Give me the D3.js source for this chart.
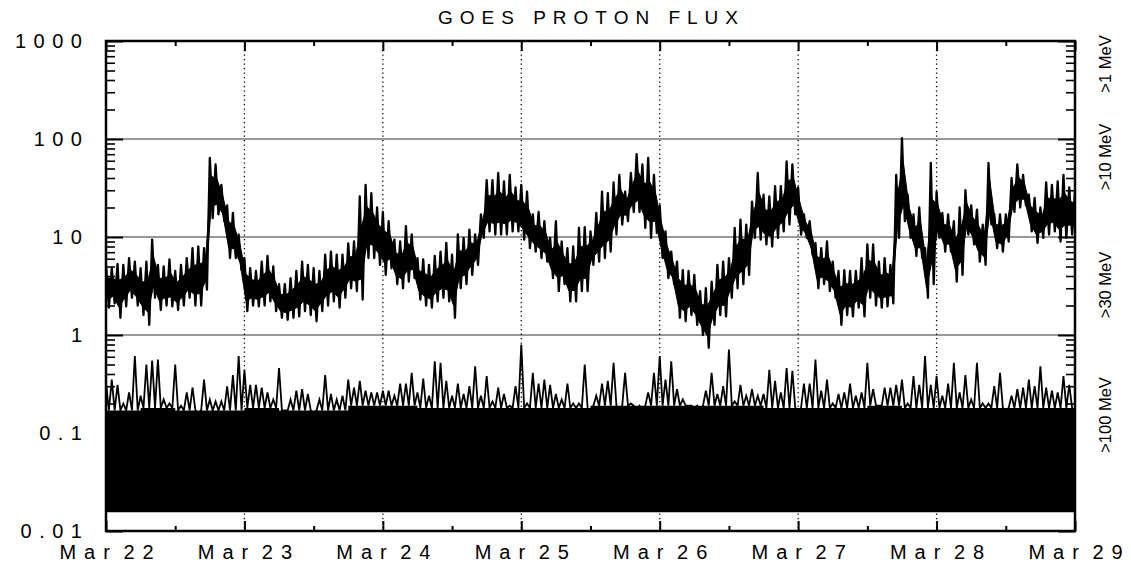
<!DOCTYPE html>
<html><head><meta charset="utf-8">
<script src="https://cdn.jsdelivr.net/npm/d3@7"></script>
<style>body{margin:0;background:#fff}svg{display:block}</style>
</head><body>
<svg id="c" width="1131" height="562"></svg>
<script>
// ---------- data ----------
const chartTitle = "GOES PROTON FLUX";
const dayLabels = ["Mar 22","Mar 23","Mar 24","Mar 25","Mar 26","Mar 27","Mar 28","Mar 29"];
const dayHours = [0,24,48,72,96,120,144,168];
const halfDayHours = [12,36,60,84,108,132,156];
const yDecades = [0.01,0.1,1,10,100,1000];
const yTickLabels = ["0.01","0.1","1","10","100","1000"];
const channelLabels = [">1 MeV",">10 MeV",">30 MeV",">100 MeV"];

// upper channel: hourly high / low envelope (hour 0 = Mar 22 00:00)
const upperHi = [5.2,4.8,5.3,5.2,6.1,5.6,4.8,5.6,9.4,5.2,
5.0,5.9,4.5,5.2,6.1,7.7,8.0,7.7,64,55,
34,21,17.6,10.6,6.1,4.8,4.5,5.6,6.4,5.0,
3.3,3.3,3.8,4.5,5.6,5.2,4.8,4.5,6.6,7.1,
6.6,6.6,8.6,9.0,26,34,28,20,18,14.5,
9.4,9.0,12.9,10.6,6.1,5.9,5.2,6.4,7.1,8.7,
6.6,10.6,9.8,11.9,10.6,17,38,38,45,37,
43,32,34,29,17,18,14.5,9.8,14.5,9.0,
7.7,8.0,12.4,12.6,11.4,17.6,29,28,36,43,
29,45,70,55,64,43,21,11.4,7.1,5.6,
4.6,4.5,4.1,2.8,3.0,3.5,5.2,5.6,6.1,12.4,
15,13.4,23,45,27,26,33,33,59,55,
32,17,14.5,8.7,7.7,9.0,5.6,4.5,4.6,4.5,
4.5,6.1,8.4,8.4,5.6,6.1,5.2,43,102,27,
17,20,7.7,57,29,17.6,17,14.5,20,30,
21,19,13.4,57,17,17,17,40,55,43,
27,25,20,36,34,37,43,32,29];
const upperLo = [1.9,2.1,1.5,1.96,2.4,2.0,1.6,1.27,2.4,1.8,
2.0,1.96,1.8,2.0,2.4,2.0,2.0,2.9,15.6,17,
14.5,6.1,6.1,4.6,1.75,2.0,1.96,2.0,2.2,1.75,
1.5,1.43,1.5,1.55,1.75,1.6,1.38,1.75,2.0,2.2,
1.9,2.4,3.0,2.8,2.3,6.1,6.1,5.2,4.1,4.8,
3.3,3.0,3.5,3.8,2.3,2.0,1.9,2.2,2.4,2.2,
1.5,3.0,3.3,4.1,5.2,9.8,11.4,10.6,10.6,10.6,
11.4,11.4,9.4,7.7,7.1,6.1,5.6,3.8,2.8,3.3,
2.2,2.2,2.8,2.8,5.2,5.6,6.1,7.1,10.6,13.4,
14.5,18,18,12.4,9.8,11,6.1,3.8,3.3,1.5,
1.38,1.6,1.27,1.0,0.74,1.27,1.6,1.55,2.4,3.0,
3.3,4.1,9.8,9.4,8.4,8.0,9.8,11.4,13.4,17,
10.6,9.8,6.6,3.0,3.3,2.8,2.4,1.27,1.6,1.55,
1.9,1.55,2.4,2.0,1.9,1.96,2.1,9.8,14.5,9.8,
6.4,6.1,2.4,3.3,9.8,7.1,7.1,3.5,4.1,10.6,
8.4,5.6,5.2,13.4,7.7,7.1,9.0,18,20,21,
11.4,8.7,9.8,10.6,11.4,9.0,9.8,10.6,11.4];

// lower channel: hourly spike peaks, 6-hourly dense-band top, background floor
const lowerPeak = [0.33,0.35,0.31,0.2,0.26,0.61,0.24,0.5,0.55,0.56,
0.22,0.2,0.5,0.19,0.26,0.29,0.16,0.35,0.22,0.21,
0.21,0.3,0.39,0.61,0.44,0.31,0.31,0.29,0.26,0.22,
0.46,0.17,0.22,0.27,0.28,0.25,0.16,0.22,0.39,0.25,
0.22,0.24,0.35,0.29,0.34,0.27,0.26,0.26,0.27,0.27,
0.24,0.32,0.32,0.41,0.26,0.36,0.24,0.54,0.52,0.34,
0.24,0.32,0.25,0.3,0.48,0.24,0.38,0.21,0.29,0.25,
0.19,0.3,0.8,0.2,0.41,0.32,0.35,0.31,0.25,0.22,
0.32,0.2,0.2,0.5,0.16,0.24,0.32,0.34,0.52,0.17,
0.41,0.2,0.17,0.17,0.26,0.41,0.61,0.35,0.54,0.28,
0.22,0.19,0.18,0.16,0.27,0.41,0.25,0.3,0.71,0.21,
0.31,0.24,0.28,0.24,0.25,0.44,0.34,0.26,0.46,0.43,
0.17,0.32,0.32,0.56,0.27,0.35,0.2,0.25,0.26,0.32,
0.24,0.26,0.52,0.28,0.19,0.29,0.29,0.31,0.35,0.2,
0.38,0.31,0.61,0.31,0.38,0.24,0.32,0.52,0.26,0.39,
0.22,0.52,0.2,0.2,0.3,0.41,0.17,0.24,0.28,0.29,
0.35,0.3,0.48,0.29,0.27,0.26,0.38,0.31,0.16];
const lowerBand = [0.17,0.18,0.17,0.17,0.18,0.17,0.17,0.19,0.19,0.18,0.18,0.18,0.18,0.18,0.19,
0.19,0.19,0.19,0.19,0.18,0.18,0.18,0.19,0.18,0.18,0.18,0.18,0.18,0.18];
const lowerFloor = 0.0155;

// ---------- layout ----------
const L = 106, R = 1075, T = 41, B = 531;
const svg = d3.select("#c");
const x = d3.scaleLinear().domain([0,168]).range([L,R]);
const y = d3.scaleLog().domain([0.01,1000]).range([B,T]);
const FONT = "'Liberation Sans', Arial, Helvetica, sans-serif";

svg.append("defs").append("clipPath").attr("id","pa")
  .append("rect").attr("x",L).attr("y",T).attr("width",R-L).attr("height",B-T);

// horizontal grid at decades
svg.append("g").selectAll("line").data([0.1,1,10,100]).join("line")
  .attr("x1",L).attr("x2",R).attr("y1",d=>y(d)).attr("y2",d=>y(d))
  .attr("stroke","#333").attr("stroke-width",1.2);
// dotted day lines
svg.append("g").selectAll("line").data(dayHours.slice(1,-1)).join("line")
  .attr("x1",d=>x(d)).attr("x2",d=>x(d)).attr("y1",T).attr("y2",B)
  .attr("stroke","#000").attr("stroke-width",1.3).attr("stroke-dasharray","1.3,3.2");

const plot = svg.append("g").attr("clip-path","url(#pa)");

// lower channel: dense band + spikes
const bandAt = h => lowerBand[Math.min(lowerBand.length-1, Math.floor(h/6))];
const bandPts = d3.range(lowerBand.length).map(i => [i*6, lowerBand[i]]);
plot.append("path").datum(bandPts)
  .attr("d", d3.area().curve(d3.curveStepAfter).x(d=>x(d[0])).y0(y(lowerFloor)).y1(d=>y(d[1])))
  .attr("fill","#000");
const lowerPts = [];
lowerPeak.forEach((v,h)=>{ lowerPts.push([h, v]); lowerPts.push([h+0.5, bandAt(h)]); });
plot.append("path").datum(lowerPts)
  .attr("d", d3.line().x(d=>x(d[0])).y(d=>y(d[1])))
  .attr("fill","none").attr("stroke","#000").attr("stroke-width",1.8).attr("stroke-linejoin","miter");

// upper channel: dense core of the envelope + zigzag trace
const upperRows = upperHi.map((v,h)=>({h, hi:v, lo:upperLo[h]}));
const coreTop = d => y(d.hi) + 0.3*(y(d.lo)-y(d.hi));
const coreBot = d => y(d.lo) - 0.2*(y(d.lo)-y(d.hi));
plot.append("path").datum(upperRows)
  .attr("d", d3.area().x(d=>x(d.h+0.25)).y0(coreBot).y1(coreTop))
  .attr("fill","#000").attr("stroke","#000").attr("stroke-width",1);
const upperPts = [];
upperRows.forEach(d=>{ upperPts.push([d.h, d.hi]); upperPts.push([d.h+0.5, d.lo]); });
plot.append("path").datum(upperPts)
  .attr("d", d3.line().x(d=>x(d[0])).y(d=>y(d[1])))
  .attr("fill","none").attr("stroke","#000").attr("stroke-width",2.3).attr("stroke-linejoin","round");

// ---------- axes ----------
const minorVals = [];
yDecades.slice(0,-1).forEach(d=>{ for(let k=2;k<=9;k++) minorVals.push(d*k); });
function styleAxis(g, w){ g.select(".domain").remove(); g.selectAll(".tick line").attr("stroke","#000").attr("stroke-width",w); }

svg.append("g").attr("transform",`translate(${L},0)`)
  .call(d3.axisLeft(y).tickValues(minorVals).tickSize(-9).tickFormat(""))
  .call(g=>styleAxis(g,1.6));
svg.append("g").attr("transform",`translate(${R},0)`)
  .call(d3.axisRight(y).tickValues(minorVals).tickSize(-9).tickFormat(""))
  .call(g=>styleAxis(g,1.6));
svg.append("g").attr("transform",`translate(${R},0)`)
  .call(d3.axisRight(y).tickValues(yDecades).tickSize(-17).tickFormat(""))
  .call(g=>styleAxis(g,2));
const LS_Y = 7.5;
svg.append("g").attr("transform",`translate(${L},0)`)
  .call(d3.axisLeft(y).tickValues(yDecades).tickSize(-17).tickPadding(24-LS_Y)
        .tickFormat((d,i)=>yTickLabels[i]))
  .call(g=>styleAxis(g,2))
  .call(g=>g.selectAll("text").attr("font-family",FONT).attr("font-size",20)
        .attr("fill","#000").attr("letter-spacing",LS_Y+"px").attr("dy","0.34em"));

// x ticks
svg.append("g").attr("transform",`translate(0,${T})`)
  .call(d3.axisTop(x).tickValues(halfDayHours).tickSize(-5).tickFormat(""))
  .call(g=>styleAxis(g,2));
svg.append("g").attr("transform",`translate(0,${T})`)
  .call(d3.axisTop(x).tickValues(dayHours).tickSize(-10).tickFormat(""))
  .call(g=>styleAxis(g,2));
svg.append("g").attr("transform",`translate(0,${B})`)
  .call(d3.axisBottom(x).tickValues(halfDayHours).tickSize(-5).tickFormat(""))
  .call(g=>styleAxis(g,2));
const LS_X = 8;
svg.append("g").attr("transform",`translate(0,${B})`)
  .call(d3.axisBottom(x).tickValues(dayHours).tickSize(-10).tickPadding(14)
        .tickFormat((d,i)=>dayLabels[i]))
  .call(g=>styleAxis(g,2))
  .call(g=>g.selectAll("text").attr("font-family",FONT).attr("font-size",20)
        .attr("fill","#000").attr("letter-spacing",LS_X+"px").style("word-spacing","-8px")
        .attr("dx",(LS_X/2)+"px"));

// frame
svg.append("rect").attr("x",L).attr("y",T).attr("width",R-L).attr("height",B-T)
  .attr("fill","none").attr("stroke","#000").attr("stroke-width",2.5);

// title
const LS_T = 7;
svg.append("text").attr("x",588+LS_T/2).attr("y",24).attr("text-anchor","middle")
  .attr("font-family",FONT).attr("font-size",19).attr("letter-spacing",LS_T+"px")
  .text(chartTitle);

// channel labels on the right (rotated)
const labelY = [64,157,285,415];
svg.append("g").selectAll("text").data(channelLabels).join("text")
  .attr("transform",(d,i)=>`translate(1111,${labelY[i]}) rotate(-90)`)
  .attr("text-anchor","middle").attr("font-family",FONT).attr("font-size",16.5)
  .text(d=>d);
</script>
</body></html>
